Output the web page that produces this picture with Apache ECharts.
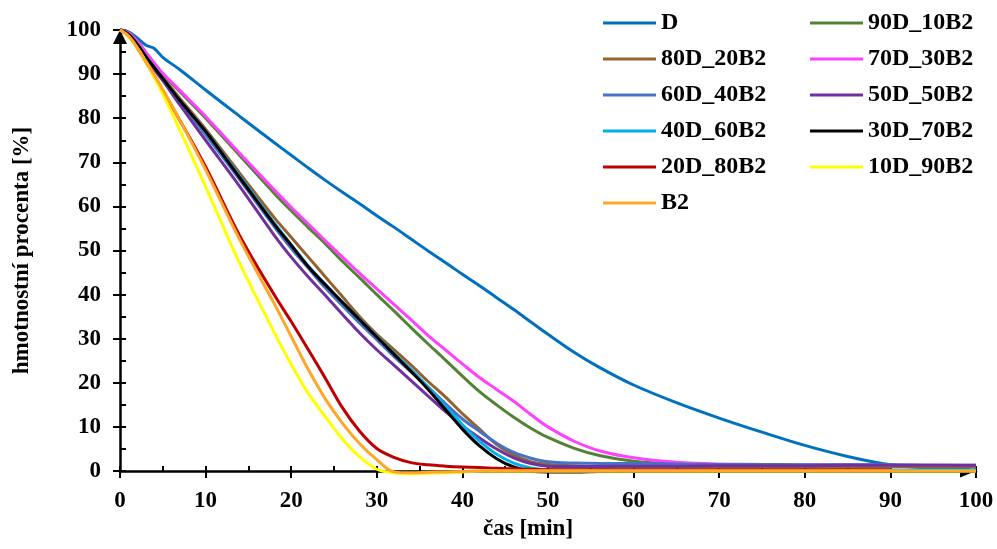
<!DOCTYPE html>
<html>
<head>
<meta charset="utf-8">
<script src="https://cdn.jsdelivr.net/npm/echarts@6/dist/echarts.min.js"></script>
<style>
html,body{margin:0;padding:0;background:#fff;}
#chart{width:997px;height:549px;}
</style>
</head>
<body>
<div id="chart"></div>
<script>
// cas [min]
var times = [0,1,2,3,4,5,7,10,14,18,20,22,24,26,28,30,32,34,36,38,40,42,44,46,48,50,53,56,60,65,70,75,80,85,90,95,100];

var names = ['D','90D_10B2','80D_20B2','70D_30B2','60D_40B2','50D_50B2','40D_60B2','30D_70B2','20D_80B2','10D_90B2','B2'];
var colors = ['#0070C0','#548235','#94622F','#FF40FF','#4472C4','#7030A0','#00B0F0','#000000','#C00000','#FFFF00','#FFA726'];

var D        = [100,99.6,98.2,96.6,95.8,93.8,91, 86.4,80.4,74.5,71.6,68.7,65.9,63.2,60.6,57.9, 55.3,52.6,49.9,47.3,44.6,42,39.3,36.6,33.8,31, 27,23.5,19.5,15.5,12,8.8,5.8,3.3,1.4,0.6,0.2];
var D90_B10  = [100,99.3,97.5,95,92.5,90,86, 80,71.5,63,59,55.2,51.5,47.5,43.8,40, 36.3,32.5,28.8,25.2,21.5,18,15,12.2,9.7,7.6, 5.2,3.5,2.2,1.6,1.4,1.3,1.2,1.2,1.1,1.1,1];
var D80_B20  = [100,99,97,94.3,91.8,89.3,84.5, 77.5,67.5,57.5,53,48.5,44,39.5,35,31, 27.5,24,20.3,16.8,13,9.5,6,3.6,2.1,1.5, 1.2,1,1,1,1,1,1,1,1,1,1];
var D70_B30  = [100,99.3,97.5,95,92.5,90.2,86.3, 80.4,72,63.8,59.8,56,52.2,48.5,44.8,41.3, 37.8,34.3,30.7,27.5,24.3,21.2,18.5,15.8,12.8,10, 6.8,4.6,3,2,1.6,1.5,1.4,1.4,1.3,1.3,1.2];
var D60_B40  = [100,99,96.8,94,91.3,88.8,83.8, 76.3,66,55.5,50.5,46,41.5,37.5,33.5,29.8, 26,22.5,19,15.3,11.8,9,6.3,4.2,2.9,2.1, 1.8,1.7,1.7,1.6,1.5,1.5,1.4,1.4,1.4,1.3,1.3];
var D50_B50  = [100,99,96.8,94,91,88.5,83, 75,64.5,53.5,48.5,44,39.8,35.5,31.3,27.5, 24,20.5,17,13.5,10.3,7.5,5,3,1.7,1.1, 1,1,1.1,1.1,1.2,1.2,1.2,1.3,1.3,1.3,1.3];
var D40_B60  = [100,99,96.8,94,91.5,89,84, 77,66.8,56.3,51.3,46.5,42.3,38.3,34.4,30.5, 26.7,23,19,14.8,10.5,6.8,3.8,1.8,0.7,0.3, 0.2,0.2,0.2,0.2,0.2,0.2,0.2,0.2,0.2,0.2,0.2];
var D30_B70  = [100,99,96.8,94,91.5,89,84, 77,66.5,56,51.2,46.3,42.2,38.2,34.3,30.4, 26.5,22.6,18.5,14,9.5,5.7,2.8,0.9,0,-0.2, -0.2,-0.1,0,0,0,0,0,0,0,0,0];
var D20_B80  = [100,98.8,96,92.8,89.5,86.3,79.5, 69,53.3,40,33.9,27.5,21,14.3,9,5.1, 3.1,1.9,1.4,1.1,0.9,0.8,0.6,0.5,0.4,0.3, 0.3,0.3,0.3,0.3,0.3,0.3,0.3,0.3,0.3,null,null];
var D10_B90  = [100,98.5,96,92.8,89.3,85.5,77.3, 64.5,47,31.5,24.2,17.6,12.3,7.2,3.2,0.4, -0.4,-0.6,-0.5,-0.4,-0.2,0,0,0,0,0, 0,0,0,0,0,0,0,0,0,0,0];
var B2       = [100,98.6,96,93,89.8,86.5,79.5, 68.3,52.4,38,30.5,23,16.3,10.8,6.2,2.6, -0.2,-0.4,-0.3,-0.2,-0.1,0,0,0,0,0, 0,0,0,0,0,0,0,0,0,0,0];

var allValues = [D,D90_B10,D80_B20,D70_B30,D60_B40,D50_B50,D40_B60,D30_B70,D20_B80,D10_B90,B2];

var xTicks = [0,10,20,30,40,50,60,70,80,90,100];
var yTicks = [0,10,20,30,40,50,60,70,80,90,100];

var fontF = "'Liberation Serif', 'Times New Roman', serif";
var txt = {fontFamily: fontF, fontWeight: 'bold', color: '#000', fontSize: 23};

function pairs(vals) {
    return times.map(function (t, i) { return [t, vals[i]]; });
}

var series = names.map(function (n, i) {
    return {
        name: n,
        type: 'line',
        xAxisIndex: 0,
        yAxisIndex: 0,
        symbol: 'none',
        smooth: 0.35,
        clip: false,
        lineStyle: {width: 3, color: colors[i]},
        itemStyle: {color: colors[i]},
        data: pairs(allValues[i])
    };
});

var legendBase = {
    orient: 'vertical',
    top: 6,
    icon: 'rect',
    itemWidth: 53,
    itemHeight: 3,
    itemGap: 12,
    textStyle: {fontFamily: fontF, fontWeight: 'bold', color: '#000', fontSize: 24, lineHeight: 24}
};

// second grid only carries the small inward ticks every 5
var gridBox = {left: 120, right: 21, top: 30, bottom: 78, containLabel: false};

var option = {
    backgroundColor: '#fff',
    animation: false,
    color: colors,
    grid: [gridBox, Object.assign({}, gridBox)],
    legend: [
        Object.assign({left: 598, data: ['D','80D_20B2','60D_40B2','40D_60B2','20D_80B2','B2']}, legendBase),
        Object.assign({left: 805, data: ['90D_10B2','70D_30B2','50D_50B2','30D_70B2','10D_90B2']}, legendBase)
    ],
    xAxis: [
        {
            type: 'value', gridIndex: 0, min: xTicks[0], max: xTicks[xTicks.length - 1], interval: 10,
            name: 'čas [min]', nameLocation: 'middle', nameGap: 47,
            nameTextStyle: Object.assign({padding: [0, 40, 0, 0]}, txt),
            axisLine: {show: true, lineStyle: {color: '#000', width: 2.5}, symbol: ['none', 'triangle'], symbolSize: [13, 16], symbolOffset: [0, -8]},
            axisTick: {show: true, inside: false, length: 7, lineStyle: {color: '#000', width: 2}},
            axisLabel: Object.assign({margin: 19}, txt),
            splitLine: {show: false},
            z: 1
        },
        {
            type: 'value', gridIndex: 1, position: 'bottom', min: 0, max: 100, interval: 5,
            axisLine: {show: false},
            axisTick: {show: true, inside: true, length: 5, lineStyle: {color: '#000', width: 2}},
            axisLabel: {show: false},
            splitLine: {show: false},
            z: 1
        }
    ],
    yAxis: [
        {
            type: 'value', gridIndex: 0, min: yTicks[0], max: yTicks[yTicks.length - 1], interval: 10,
            name: 'hmotnostní procenta [%]', nameLocation: 'middle', nameGap: 86,
            nameTextStyle: txt,
            axisLine: {show: true, lineStyle: {color: '#000', width: 2.5}, symbol: ['none', 'triangle'], symbolSize: [14, 14], symbolOffset: [0, -7]},
            axisTick: {show: true, inside: false, length: 7, lineStyle: {color: '#000', width: 2}},
            axisLabel: Object.assign({margin: 19}, txt),
            splitLine: {show: false},
            z: 1
        },
        {
            type: 'value', gridIndex: 1, position: 'left', min: 0, max: 100, interval: 5,
            axisLine: {show: false},
            axisTick: {show: true, inside: true, length: 6, lineStyle: {color: '#000', width: 2}},
            axisLabel: {show: false},
            splitLine: {show: false},
            z: 1
        }
    ],
    series: series
};

var chart = echarts.init(document.getElementById('chart'));
chart.setOption(option);
</script>
</body>
</html>
